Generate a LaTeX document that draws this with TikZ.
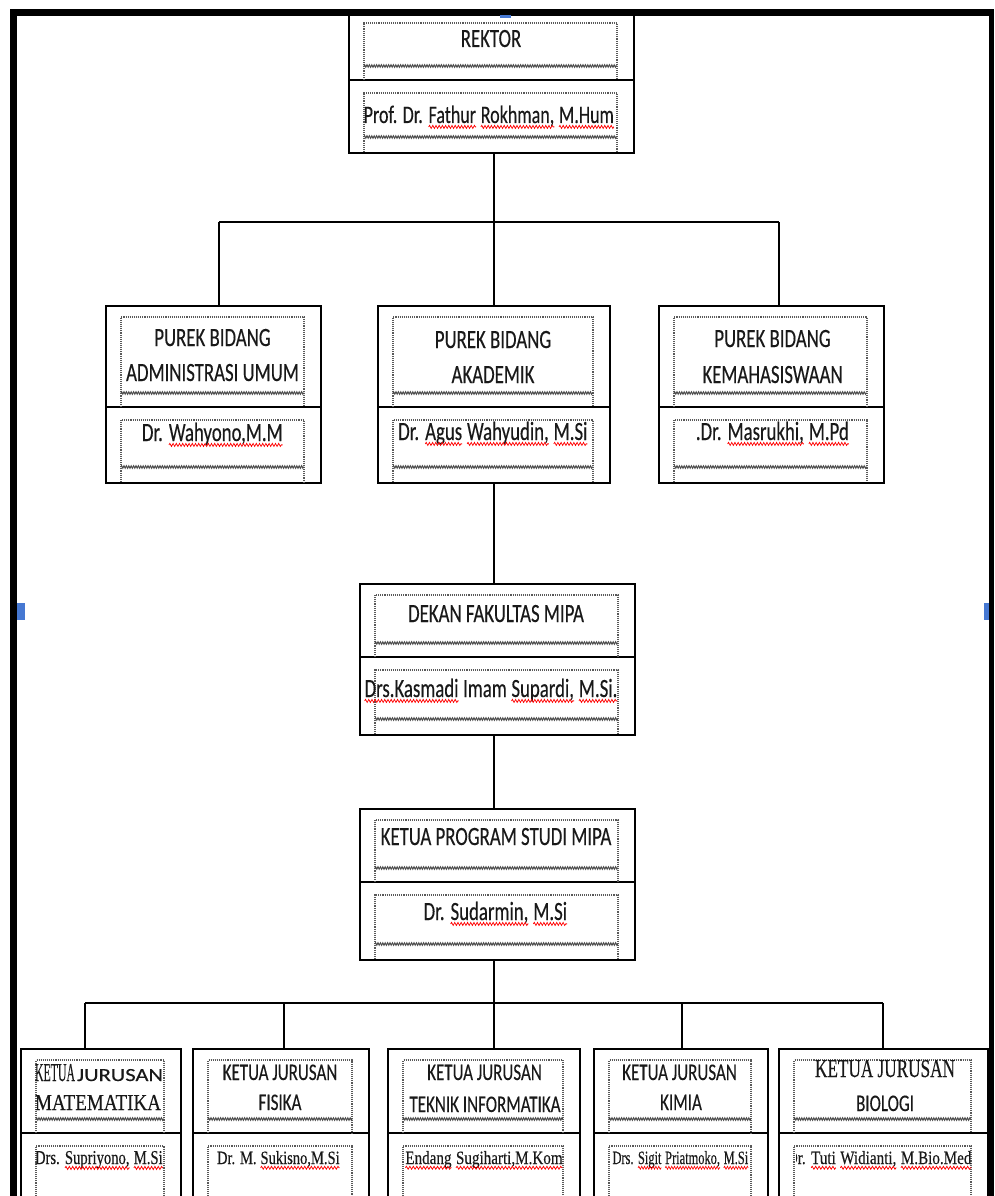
\documentclass[tikz,border=0pt]{standalone}
\usepackage{fontspec}
\setmainfont{Carlito}[FakeBold=0.35]
\newfontfamily\lser{Liberation Serif}[FakeBold=0.35]
\usepackage{graphicx}
\usetikzlibrary{decorations.pathmorphing}
\newcommand\rw[1]{\tikz[baseline=(w.base), x=1pt, y=1pt]{\node[inner sep=0pt, outer sep=0pt, anchor=base] (w) {#1}; \draw[red, line width=0.65pt, decorate, decoration={snake, amplitude=1.1pt, segment length=3.2pt}] ([yshift=-2.8pt]w.base west) -- ([yshift=-2.8pt]w.base east);}}
\newcommand\st[1]{\scalebox{1}[1.4]{#1}}
\newcommand\nm[2]{\resizebox{#1pt}{13pt}{\lser\fontsize{14}{16}\selectfont #2}}
\tikzset{
  obx/.style={draw=black, line width=1.8pt},
  dbx/.style={draw=black!65, line width=1.1pt, densely dotted},
  wv/.style={draw=black!70, line width=1pt, decorate, decoration={zigzag, amplitude=1.2pt, segment length=2.4pt}},
  con/.style={draw=black, line width=1.8pt},
  t1/.style={font=\fontsize{18.8}{22}\selectfont, inner sep=0pt, anchor=base, text=black!90},
  t2/.style={font=\fontsize{17}{20}\selectfont, inner sep=0pt, anchor=base, text=black!90},
  hdl/.style={fill={rgb,255:red,70;green,120;blue,210}, draw=none},
}
% name, x1, x2, ytop, ydiv, ybot
\newcommand\obox[6]{%
  \node[obx, inner sep=0pt, minimum width={(#3-#2)*1pt}, minimum height={(#6-#4)*1pt}, anchor=north west] (#1) at (#2,#4) {};
  \draw[obx] (#2,#5) -- (#3,#5);
  \draw[dbx] ({#2+16},#5) -- ({#2+16},{#4+12}) -- ({#3-16},{#4+12}) -- ({#3-16},#5);
  \draw[wv] ({#2+16},{#5-14}) -- ({#3-16},{#5-14});
  \draw[dbx] ({#2+16},#6) -- ({#2+16},{#5+13}) -- ({#3-16},{#5+13}) -- ({#3-16},#6);
  \draw[wv] ({#2+16},{#6-15}) -- ({#3-16},{#6-15});
}
\begin{document}
\begin{tikzpicture}[x=1pt, y=-1pt]
\useasboundingbox (0,0) rectangle (994,1196);
\fill[white] (0,0) rectangle (994,1196);
\clip (0,0) rectangle (994,1196);

% boxes
\obox{rek}{348}{633}{11}{80}{152}
\obox{pa}{105}{320}{305}{407}{482}
\obox{pb}{377}{609}{305}{407}{482}
\obox{pc}{658}{883}{305}{407}{482}
\obox{dek}{359}{634}{583}{657}{734}
\obox{kp}{359}{634}{808}{882}{959}
\obox{ja}{20}{180}{1048}{1133}{1215}
\obox{jb}{192}{368}{1048}{1133}{1215}
\obox{jc}{387}{579}{1048}{1133}{1215}
\obox{jd}{593}{767}{1048}{1133}{1215}
\obox{je}{778}{987}{1048}{1133}{1215}

% connectors
\coordinate (b0) at (494,222);
\coordinate (t1) at (219,222);
\coordinate (t3) at (779,222);
\coordinate (b2) at (494,1003);
\coordinate (u1) at (85,1003);
\coordinate (u2) at (284,1003);
\coordinate (u4) at (682,1003);
\coordinate (u5) at (883,1003);
\draw[con] (rek.south -| b0) -- (b0);
\draw[con] (t1) -- (t3);
\draw[con] (t1) -- (t1 |- pa.north);
\draw[con] (b0) -- (b0 |- pb.north);
\draw[con] (t3) -- (t3 |- pc.north);
\draw[con] (pb.south -| b0) -- (dek.north -| b0);
\draw[con] (dek.south -| b0) -- (kp.north -| b0);
\draw[con] (kp.south -| b0) -- (b2);
\draw[con] (u1) -- (u5);
\draw[con] (u1) -- (u1 |- ja.north);
\draw[con] (u2) -- (u2 |- jb.north);
\draw[con] (b2) -- (b2 |- jc.north);
\draw[con] (u4) -- (u4 |- jd.north);
\draw[con] (u5) -- (u5 |- je.north);

% texts
\node[t1] (rekT) at (491,47) {\st{REKTOR}};
\node[t1, font=\fontsize{18}{22}\selectfont] (rekN) at (489,123) {\st{Prof. Dr. \rw{Fathur} \rw{Rokhman,} \rw{M.Hum}}};

\node[t1] (paT1) at (212.5,346) {\st{PUREK BIDANG}};
\node[t1] (paT2) at (212.5,381) {\st{ADMINISTRASI UMUM}};
\node[t1] (paN) at (212.5,441) {\st{Dr. \rw{Wahyono,M.M}}};

\node[t1] (pbT1) at (493,348) {\st{PUREK BIDANG}};
\node[t1] (pbT2) at (493,383) {\st{AKADEMIK}};
\node[t1] (pbN) at (493,440) {\st{Dr. \rw{Agus} \rw{Wahyudin,} \rw{M.Si}}};

\node[t1] (pcT1) at (772.5,347) {\st{PUREK BIDANG}};
\node[t1] (pcT2) at (772.5,383) {\st{KEMAHASISWAAN}};
\node[t1] (pcN) at (772.5,440) {\st{.Dr. \rw{Masrukhi,} \rw{M.Pd}}};

\node[t1] (dekT) at (496,622) {\st{DEKAN FAKULTAS MIPA}};
\node[t1] (dekN) at (491,697) {\st{\rw{Drs.Kasmadi} Imam \rw{Supardi,} \rw{M.Si.}}};

\node[t1] (kpT) at (496,845) {\st{KETUA PROGRAM STUDI MIPA}};
\node[t1] (kpN) at (495.5,920) {\st{Dr. \rw{Sudarmin,} \rw{M.Si}}};

\node[t2] (jaT1) at (99,1081) {\resizebox{40pt}{17pt}{\lser KETUA}\hspace{2pt}\resizebox{86pt}{12pt}{JURUSAN}};
\node[t2] (jaT2) at (98,1110) {\resizebox{126pt}{15pt}{\lser MATEMATIKA}};
\node[t2] (jbT1) at (280,1080) {\st{KETUA JURUSAN}};
\node[t2] (jbT2) at (280,1110) {\st{FISIKA}};
\node[t2] (jcT1) at (484.5,1080) {\st{KETUA JURUSAN}};
\node[t2] (jcT2) at (485,1112) {\st{TEKNIK INFORMATIKA}};
\node[t2] (jdT1) at (679.5,1080) {\st{KETUA JURUSAN}};
\node[t2] (jdT2) at (681,1110) {\st{KIMIA}};
\node[t2] (jeT1) at (885,1077) {\resizebox{140pt}{17pt}{\lser KETUA JURUSAN}};
\node[t2] (jeT2) at (885,1111) {\st{BIOLOGI}};

\node[t2] (jaN) at (99,1164) {\nm{128}{Drs. \rw{Supriyono,} \rw{M.Si}}};
\node[t2] (jbN) at (278.5,1164) {\nm{123}{Dr. M. \rw{Sukisno,M.Si}}};
\node[t2] (jcN) at (484,1164) {\nm{158}{\rw{Endang} \rw{Sugiharti,M.Kom}}};
\node[t2] (jdN) at (680.5,1164) {\nm{136}{Drs. \rw{Sigit} \rw{Priatmoko,} \rw{M.Si}}};
\begin{scope}
  \clip (796,1140) rectangle (976,1192);
  \node[t2, anchor=base east] (jeN) at (972,1164) {\nm{185}{Dr. \rw{Tuti} \rw{Widianti,} \rw{M.Bio.Med}}};
\end{scope}

% document frame
\fill[black] (10,9) rectangle (994,16);
\fill[black] (10,9) rectangle (17,1196);
\fill[black] (989,9) rectangle (994,1196);
% selection handles
\fill[hdl] (17,603) rectangle (25,620);
\fill[hdl] (984,603) rectangle (989,620);
\fill[hdl] (500,15) rectangle (511,18);
\end{tikzpicture}
\end{document}
